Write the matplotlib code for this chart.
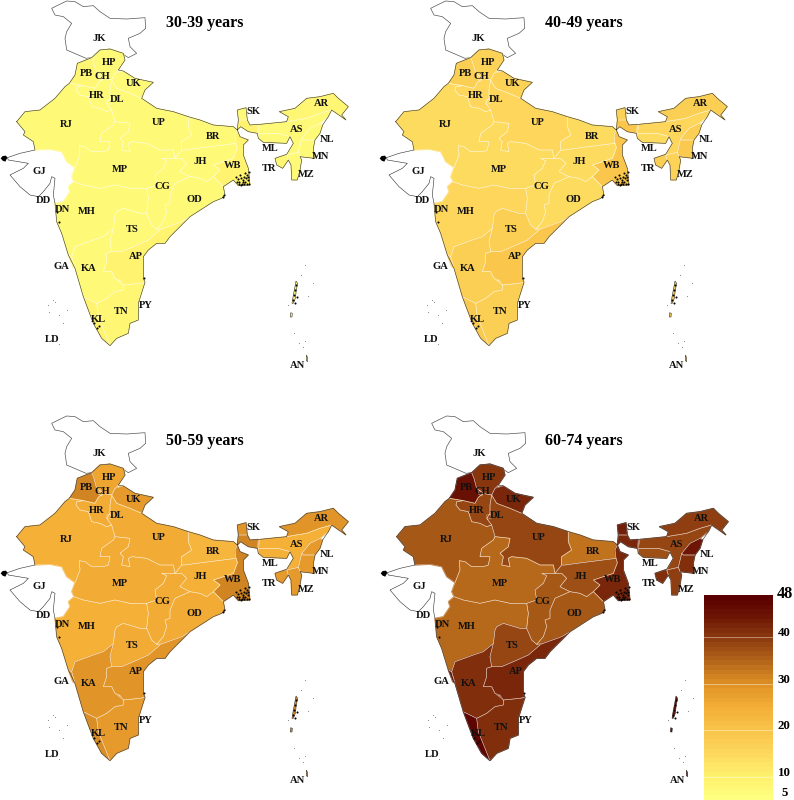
import numpy as np
import matplotlib
matplotlib.use('Agg')
import matplotlib.pyplot as plt
from matplotlib.colors import LinearSegmentedColormap, Normalize
from matplotlib.patches import Polygon

plt.rcParams['font.family'] = ['Liberation Serif', 'DejaVu Serif']

# rates per state, None = no data (drawn white)
states = ['JK', 'GJ', 'HP', 'PB', 'CH', 'UK', 'HR', 'DL', 'RJ', 'UP', 'BR', 'SK', 'AR', 'AS', 'NL', 'ML', 'MN',
          'TR', 'MZ', 'WB', 'JH', 'MP', 'CG', 'OD', 'MH', 'TS', 'AP', 'GA', 'KA', 'TN', 'KL', 'AN']
rate_30_39 = [None, None, 7, 8.5, 7, 7, 7, 7, 7, 7, 7, 7, 8, 7, 7, 7, 7, 8, 7, 9.5, 7, 7, 7, 7, 7, 7, 9.5, 8, 7, 8, 9,
              9]
rate_40_49 = [None, None, 16, 17, 16, 16, 15, 15, 14.5, 15.5, 14.5, 16, 17, 15, 17, 14.5, 18.5, 17, 16, 19, 14.5, 14.5,
              14.5, 14.5, 15, 17, 19, 18, 17, 17.5, 18.5, 18]
rate_50_59 = [None, None, 26, 31, 26, 28, 25, 25, 24.5, 25, 23.5, 29, 29, 24.5, 28, 24, 28, 28, 28, 31, 24.5, 25, 25,
              25, 24.5, 25, 29, 30, 29, 28, 30, 30]
rate_60_74 = [None, None, 40.5, 45, 41, 42, 38, 38, 36, 38, 33.5, 43, 39.5, 38, 44, 37, 41, 41, 39, 42.5, 37, 35, 36,
              36, 35, 38, 42, 44, 41.5, 41, 47, 45]
panel_titles = ['30-39 years', '40-49 years', '50-59 years', '60-74 years']

cbar_colors = [(5, '#ffff80'), (10, '#fff06c'), (15, '#fdd75c'), (20, '#f9c44a'), (25, '#f4ae36'), (30, '#df9226'),
               (35, '#b4661a'), (40, '#8c3c10'), (45, '#6c1505'), (49, '#5a0000')]
cbar_ticks = [40, 30, 20, 10]

# outlines, in 3x pixels of one panel
shapes = {
    'JK': [(155, 40), (175, 30), (200, 18), (225, 20), (250, 35), (280, 32), (300, 50), (330, 70), (380, 72), (435, 68),
           (437, 100), (420, 115), (385, 130), (390, 155), (410, 175), (385, 188), (365, 175), (330, 162), (300, 165),
           (275, 188), (258, 190), (235, 180), (200, 165), (195, 130), (200, 110), (215, 85), (190, 65), (165, 60)],
    'GJ': [(105, 465), (150, 463), (185, 470), (200, 500), (225, 518), (215, 545), (222, 560), (205, 575), (210, 590),
           (190, 620), (165, 625), (160, 600), (165, 550), (155, 545), (150, 565), (130, 590), (115, 605), (90, 600),
           (60, 575), (30, 540), (70, 520), (85, 505), (25, 495), (22, 488), (60, 475)],
    'HP': [(275, 188), (300, 165), (330, 162), (370, 175), (375, 195), (355, 225), (345, 235), (335, 255), (310, 250),
           (290, 235), (282, 205)],
    'PB': [(232, 205), (275, 188), (282, 205), (290, 235), (310, 250), (295, 262), (285, 280), (250, 272), (208, 265),
           (225, 240)],
    'CH': [(298, 240), (310, 250), (305, 258), (295, 252)],
    'UK': [(345, 235), (370, 228), (405, 250), (460, 262), (435, 285), (425, 310), (390, 295), (350, 280), (335, 255)],
    'HR': [(230, 275), (250, 272), (285, 280), (295, 262), (310, 250), (335, 255), (330, 285), (330, 310), (320, 325),
           (335, 345), (320, 350), (300, 340), (275, 335), (265, 305), (240, 300), (228, 285)],
    'DL': [(320, 315), (332, 312), (334, 325), (322, 328)],
    'RJ': [(50, 380), (75, 350), (120, 345), (165, 310), (195, 275), (208, 265), (250, 272), (230, 275), (228, 285),
           (240, 300), (265, 305), (275, 335), (300, 340), (320, 350), (335, 345), (345, 380), (340, 390), (305, 415),
           (300, 440), (330, 440), (325, 465), (310, 470), (275, 470), (255, 455), (238, 452), (240, 480), (225, 518),
           (200, 500), (185, 470), (150, 463), (105, 465), (100, 440), (70, 420), (75, 410)],
    'UP': [(350, 280), (390, 295), (425, 310), (470, 340), (520, 350), (565, 365), (565, 395), (575, 420), (545, 440),
           (545, 465), (525, 490), (520, 465), (480, 465), (440, 445), (395, 440), (385, 445), (390, 470), (365, 465),
           (370, 440), (360, 430), (385, 410), (390, 385), (345, 380), (335, 345), (320, 325), (330, 310), (330, 285),
           (335, 255)],
    'BR': [(565, 365), (600, 375), (640, 390), (700, 395), (712, 405), (705, 420), (708, 445), (590, 460), (555, 465),
           (545, 465), (545, 440), (575, 420), (565, 395)],
    'SK': [(712, 345), (738, 338), (742, 375), (715, 375)],
    'AR': [(838, 350), (885, 340), (920, 310), (960, 305), (1000, 295), (1015, 310), (1045, 335), (1025, 360),
           (1038, 375), (995, 345), (960, 355), (920, 370), (860, 380), (865, 365)],
    'AS': [(780, 388), (860, 380), (920, 370), (960, 355), (995, 345), (985, 365), (960, 385), (930, 400), (905, 430),
           (895, 472), (860, 480), (880, 445), (870, 425), (835, 415), (775, 415)],
    'NL': [(905, 430), (930, 400), (960, 385), (968, 390), (960, 415), (945, 435), (910, 435)],
    'ML': [(775, 415), (835, 415), (870, 425), (860, 445), (790, 442), (775, 430)],
    'MN': [(910, 435), (945, 435), (940, 460), (943, 490), (900, 485), (895, 472), (905, 430)],
    'TR': [(825, 490), (860, 478), (865, 495), (848, 520), (830, 510)],
    'MZ': [(860, 480), (895, 472), (905, 495), (900, 525), (892, 555), (875, 555), (873, 510), (865, 495)],
    'WB': [(715, 375), (742, 375), (750, 390), (775, 388), (772, 415), (745, 410), (722, 395), (712, 405), (720, 425),
           (745, 435), (730, 450), (730, 480), (745, 520), (750, 570), (715, 572), (700, 555), (670, 575), (640, 545),
           (660, 525), (640, 510), (700, 490), (712, 458), (708, 445), (705, 420), (712, 405)],
    'JH': [(525, 490), (545, 465), (555, 465), (590, 460), (708, 445), (712, 458), (700, 490), (640, 510), (660, 525),
           (640, 545), (620, 560), (600, 550), (570, 545), (540, 530), (560, 505), (545, 490)],
    'MP': [(225, 518), (240, 480), (238, 452), (255, 455), (275, 470), (310, 470), (325, 465), (330, 440), (300, 440),
           (305, 415), (340, 390), (345, 380), (390, 385), (385, 410), (360, 430), (370, 440), (365, 465), (390, 470),
           (385, 445), (395, 440), (440, 445), (480, 465), (520, 465), (525, 490), (485, 490), (500, 497), (490, 520),
           (465, 540), (470, 570), (440, 580), (390, 580), (345, 570), (300, 580), (250, 570), (222, 560), (215, 545)],
    'CG': [(440, 580), (470, 570), (465, 540), (490, 520), (500, 497), (485, 490), (545, 490), (560, 505), (540, 530),
           (570, 545), (525, 565), (510, 600), (510, 625), (495, 630), (500, 650), (490, 680), (470, 703), (455, 690),
           (440, 655), (445, 610)],
    'OD': [(510, 600), (525, 565), (570, 545), (600, 550), (620, 560), (640, 545), (670, 575), (675, 600), (665, 610),
           (640, 620), (570, 665), (545, 680), (490, 700), (470, 703), (490, 680), (500, 650), (495, 630), (510, 625)],
    'MH': [(165, 625), (190, 620), (210, 590), (205, 575), (222, 560), (250, 570), (300, 580), (345, 570), (390, 580),
           (440, 580), (445, 610), (440, 655), (420, 655), (370, 640), (350, 650), (345, 660), (340, 700), (310, 725),
           (280, 735), (225, 755), (215, 785), (205, 780), (185, 715), (170, 680)],
    'TS': [(350, 650), (370, 640), (420, 655), (440, 655), (455, 690), (470, 703), (480, 705), (445, 735), (400, 755),
           (365, 770), (335, 770), (330, 740), (340, 700), (345, 660)],
    'AP': [(335, 770), (365, 770), (400, 755), (445, 735), (480, 705), (490, 700), (545, 680), (570, 665), (510, 725),
           (495, 745), (470, 745), (445, 765), (430, 785), (430, 850), (435, 862), (420, 865), (370, 870), (360, 855),
           (345, 850), (335, 830), (310, 830), (320, 800), (320, 775)],
    'GA': [(205, 780), (215, 785), (225, 820), (218, 815)],
    'KA': [(215, 785), (225, 755), (280, 735), (310, 725), (340, 700), (330, 740), (335, 770), (320, 775), (320, 800),
           (310, 830), (335, 830), (345, 850), (370, 870), (370, 885), (345, 890), (320, 910), (290, 925), (250, 905),
           (225, 820)],
    'TN': [(370, 885), (370, 870), (420, 865), (435, 862), (415, 925), (415, 975), (390, 985), (385, 1015), (350, 1030),
           (330, 1052), (295, 965), (290, 925), (320, 910), (345, 890)],
    'KL': [(250, 905), (290, 925), (295, 965), (330, 1052), (305, 1030), (280, 985)],
    'AN': [(888, 858), (893, 865), (889, 885), (886, 910), (880, 925), (876, 925), (880, 900), (884, 880)],
}
nicobar = [(919, 1080), (923, 1088), (923, 1100), (919, 1097)]
little_north = [(872, 953), (877, 955), (876, 966), (871, 966)]

border_lines = [
    [(50, 380), (75, 350), (120, 345), (165, 310), (195, 275), (208, 265), (225, 240), (232, 205), (275, 188),
     (300, 165), (330, 162), (370, 175), (375, 195), (355, 225), (370, 228), (405, 250), (460, 262), (435, 285),
     (425, 310), (470, 340), (520, 350), (565, 365), (600, 375), (640, 390), (700, 395), (712, 405), (715, 375),
     (712, 345), (738, 338), (742, 375), (750, 390), (775, 388), (780, 388), (860, 380), (865, 365), (838, 350),
     (885, 340), (920, 310), (960, 305), (1000, 295), (1015, 310), (1045, 335), (1025, 360), (1038, 375), (995, 345),
     (985, 365), (968, 390), (960, 415), (945, 435), (940, 460), (943, 490), (900, 485), (905, 495), (900, 525),
     (892, 555), (875, 555), (873, 510), (865, 495), (848, 520), (830, 510), (825, 490), (860, 478), (880, 445),
     (870, 425), (860, 445), (790, 442), (775, 430), (772, 415), (745, 410), (722, 395), (712, 405), (720, 425),
     (745, 435), (730, 450), (730, 480), (745, 520), (750, 570), (715, 572), (700, 555), (670, 575), (675, 600),
     (665, 610), (640, 620), (570, 665), (510, 725), (495, 745), (470, 745), (445, 765), (430, 785), (430, 850),
     (435, 862), (415, 925), (415, 975), (390, 985), (385, 1015), (350, 1030), (330, 1052), (305, 1030), (280, 985),
     (250, 905), (225, 820), (205, 780), (185, 715), (170, 680), (165, 625), (160, 600), (165, 550), (155, 545),
     (150, 565), (130, 590), (115, 605), (90, 600), (60, 575), (30, 540), (70, 520), (85, 505), (25, 495), (22, 488),
     (60, 475), (105, 465), (100, 440), (70, 420), (75, 410), (50, 380)],
]
kutch_blob = [(2, 490), (8, 483), (18, 482), (22, 488), (16, 500), (8, 497)]

# black specks: sundarbans, coast, islands
speck_x = [708, 714, 718, 722, 726, 730, 733, 736, 739, 742, 745, 748, 716, 724, 732, 740, 746, 720, 736, 744, 712, 728,
           672, 668, 432, 172, 176, 282, 292, 296, 885, 882, 890, 878, 888, 886]
speck_y = [545, 552, 560, 548, 566, 555, 545, 562, 550, 540, 556, 566, 568, 570, 568, 568, 530, 540, 535, 545, 560, 562,
           600, 606, 850, 650, 680, 985, 1000, 992, 885, 900, 905, 915, 870, 925]
faint_x = [915, 903, 938, 923, 865, 883, 898, 915, 908, 176, 143, 165, 200, 148, 190, 178, 158]
faint_y = [810, 840, 863, 903, 930, 1013, 1045, 1037, 1057, 1047, 930, 920, 945, 950, 985, 960, 915]

code_labels = ['JK', 'HP', 'PB', 'CH', 'UK', 'HR', 'DL', 'RJ', 'UP', 'BR', 'SK', 'AR', 'AS', 'NL', 'ML', 'MN', 'TR',
               'MZ', 'WB', 'JH', 'GJ', 'MP', 'CG', 'OD', 'DD', 'DN', 'MH', 'TS', 'AP', 'GA', 'KA', 'PY', 'TN', 'KL',
               'LD', 'AN']
code_x = [297, 326, 260, 308, 400, 289, 352, 200, 477, 640, 760, 965, 889, 982, 810, 962, 806, 918, 698, 600, 117, 360,
          486, 584, 131, 188, 259, 396, 406, 184, 266, 437, 364, 296, 156, 894]
code_y = [130, 203, 234, 245, 267, 301, 315, 389, 383, 425, 351, 326, 403, 433, 461, 484, 521, 538, 510, 499, 529, 522,
          574, 612, 617, 644, 650, 705, 784, 815, 820, 931, 951, 972, 1033, 1112]

rates = [rate_30_39, rate_40_49, rate_50_59, rate_60_74]
origins = [(0, -5), (379, -5), (0, 410), (380, 410)]
title_pos = [(205, 23), (584, 23), (205, 441), (584, 441)]

vmin, vmax = 5, 49
cmap = LinearSegmentedColormap.from_list('rate', [((v - vmin) / (vmax - vmin), c) for v, c in cbar_colors], N=44)
norm = Normalize(vmin, vmax)

fig = plt.figure(figsize=(7.94, 8.0), dpi=100)
ax = fig.add_axes([0, 0, 1, 1])


def to_px(points, origin):
    pts = np.array(points, dtype=float) / 3.0
    return pts + np.array(origin)


for values, origin, title, tpos in zip(rates, origins, panel_titles, title_pos):
    for code, value in zip(states, values):
        pts = to_px(shapes[code], origin)
        if value is None:
            edge = '#555555' if code == 'JK' else 'white'
            ax.add_patch(Polygon(pts, closed=True, facecolor='white', edgecolor=edge, linewidth=0.5, zorder=2))
        elif code == 'AN':
            col = cmap(norm(value))
            ax.add_patch(Polygon(pts, closed=True, facecolor=col, edgecolor='#333333', linewidth=0.4, zorder=3))
            for extra in (nicobar, little_north):
                ax.add_patch(Polygon(to_px(extra, origin), closed=True, facecolor=col, edgecolor='#333333',
                                     linewidth=0.4, zorder=3))
        else:
            col = cmap(norm(value))
            # own colour first so no seams show, then the pale state border
            ax.add_patch(Polygon(pts, closed=True, facecolor=col, edgecolor=col, linewidth=0.8, zorder=2))
    for code, value in zip(states, values):
        if value is not None and code != 'AN':
            ax.add_patch(Polygon(to_px(shapes[code], origin), closed=True, facecolor='none', edgecolor='white',
                                 alpha=0.55, linewidth=0.4, zorder=2.5))
    for line in border_lines:
        pts = to_px(line, origin)
        ax.plot(pts[:, 0], pts[:, 1], color='#2a2a2a', lw=0.4, zorder=4, solid_joinstyle='round')
    ax.add_patch(Polygon(to_px(kutch_blob, origin), closed=True, facecolor='black', edgecolor='none', zorder=5))
    sp = to_px(list(zip(speck_x, speck_y)), origin)
    ax.scatter(sp[:, 0], sp[:, 1], s=2.2, color='black', linewidths=0, zorder=5)
    dots = to_px(list(zip(faint_x, faint_y)), origin)
    ax.scatter(dots[:, 0], dots[:, 1], s=0.5, color='#888888', linewidths=0, zorder=3)
    lab = to_px(list(zip(code_x, code_y)), origin)
    for name, (lx, ly) in zip(code_labels, lab):
        ax.text(lx, ly, name, fontsize=7.6, fontweight='bold', color='#111111', ha='center', va='center', zorder=6)
    ax.text(tpos[0], tpos[1], title, fontsize=11.5, fontweight='bold', color='black', ha='center', va='center',
            zorder=6)

# colour bar
bar_left, bar_right, bar_top, bar_bottom = 704, 773, 595, 800
grad = np.linspace(vmax, vmin, 205).reshape(-1, 1)
ax.imshow(grad, cmap=cmap, norm=norm, extent=(bar_left, bar_right, bar_bottom, bar_top), aspect='auto', zorder=2,
          interpolation='nearest')
px_per_unit = (bar_bottom - bar_top) / (vmax - vmin)
for v in cbar_ticks:
    y = bar_top + (vmax - v) * px_per_unit
    ax.plot([bar_left, bar_right], [y, y], color='white', lw=0.7, alpha=0.4, zorder=3)
    ax.text(778, y - 4, str(v), fontsize=9.3, fontweight='bold', ha='left', va='center', zorder=6)
ax.text(777, 594, '48', fontsize=11.8, fontweight='bold', ha='left', va='center', zorder=6)
ax.text(782, 793, '5', fontsize=9.3, fontweight='bold', ha='left', va='center', zorder=6)

ax.set_xlim(0, 794)
ax.set_ylim(800, 0)
ax.axis('off')
fig.savefig('out.png', dpi=100, facecolor='white')
